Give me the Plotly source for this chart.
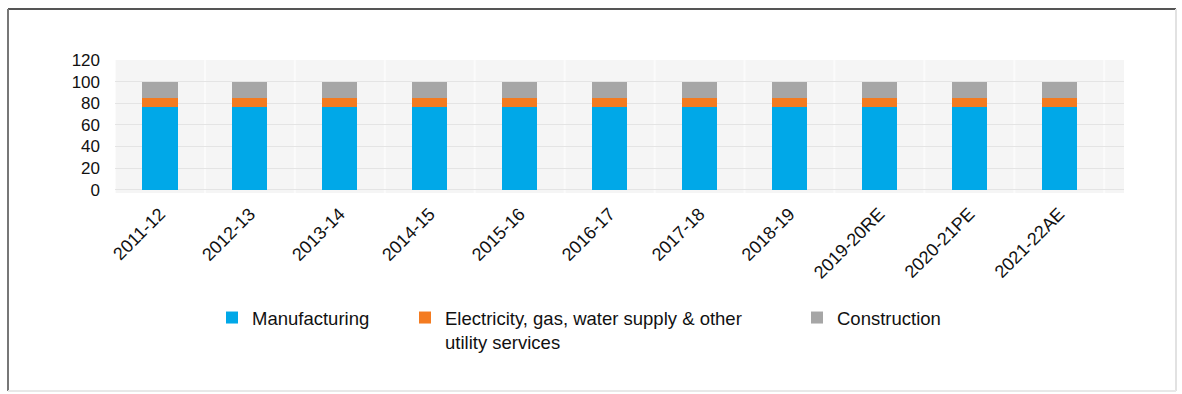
import plotly.graph_objects as go

# Share of industry GVA by sub-sector (%)
years = ["2011-12", "2012-13", "2013-14", "2014-15", "2015-16", "2016-17",
         "2017-18", "2018-19", "2019-20RE", "2020-21PE", "2021-22AE"]
manufacturing = [77, 77, 77, 77, 77, 77, 77, 77, 77, 77, 77]
utilities = [8, 8, 8, 8, 8, 8, 8, 8, 8, 8, 8]
construction = [15, 15, 15, 15, 15, 15, 15, 15, 15, 15, 15]

series_names = ["Manufacturing",
                "Electricity, gas, water supply & other<br>utility services",
                "Construction"]
series_values = [manufacturing, utilities, construction]
colors = ["#00a8e8", "#f47b20", "#a6a6a6"]
legend_ids = ["legend", "legend2", "legend3"]

W, H = 1182, 394
ML, MR, MT, MB = 115, 58, 60, 201
pw = W - ML - MR
ph = H - MT - MB

FONT = "Liberation Sans, Arial, sans-serif"

fig = go.Figure()
for name, vals, col, lg in zip(series_names, series_values, colors, legend_ids):
    fig.add_trace(go.Bar(x=years, y=vals, name=name, marker_color=col,
                         marker_line_width=0, width=0.39, legend=lg,
                         showlegend=True))


def px(x):
    """Pixel column -> paper x."""
    return (x - ML) / pw


def py(y):
    """Pixel row (from top) -> paper y."""
    return (H - MB - y) / ph


legend_style = dict(orientation="h", xanchor="left", yanchor="top",
                    bgcolor="rgba(0,0,0,0)", valign="top",
                    font=dict(family=FONT, size=18.5, color="#111"),
                    itemwidth=30, visible=True)

fig.update_layout(
    width=W, height=H,
    margin=dict(l=ML, r=MR, t=MT, b=MB),
    paper_bgcolor="white",
    plot_bgcolor="#f5f5f5",
    barmode="stack",
    showlegend=True,
    legend=dict(x=px(212), y=py(299), **legend_style),
    legend2=dict(x=px(405), y=py(299), **legend_style),
    legend3=dict(x=px(797), y=py(299), **legend_style),
    xaxis=dict(
        type="category",
        range=[-0.5, 10.72],
        tickangle=-45,
        tickfont=dict(family=FONT, size=18, color="#111"),
        showgrid=False,
        showline=False,
        ticks="",
        zeroline=False,
        ticklabelstandoff=6,
    ),
    yaxis=dict(
        range=[-3, 120],
        tickvals=[0, 20, 40, 60, 80, 100, 120],
        tickfont=dict(family=FONT, size=17, color="#111"),
        gridcolor="#e4e4e4",
        gridwidth=1,
        zeroline=False,
        showline=False,
        ticklabelstandoff=14,
    ),
)

# Light vertical separators between categories
for i in range(len(years) + 1):
    fig.add_shape(type="line", xref="x", yref="paper",
                  x0=i - 0.5, x1=i - 0.5, y0=0, y1=1,
                  line=dict(color="#fbfbfb", width=2), layer="below")

# Outer frame: dark top and left edges, light right and bottom edges
fx0, fx1 = px(8), px(1176)
fy0, fy1 = py(391), py(9)
fig.add_shape(type="line", xref="paper", yref="paper", x0=fx0, x1=fx1, y0=fy1, y1=fy1,
              line=dict(color="#555", width=2))
fig.add_shape(type="line", xref="paper", yref="paper", x0=fx0, x1=fx0, y0=fy0, y1=fy1,
              line=dict(color="#777", width=2))
fig.add_shape(type="line", xref="paper", yref="paper", x0=fx1, x1=fx1, y0=fy0, y1=fy1,
              line=dict(color="#e2e2e2", width=2))
fig.add_shape(type="line", xref="paper", yref="paper", x0=fx0, x1=fx1, y0=fy0, y1=fy0,
              line=dict(color="#e8e8e8", width=2))

fig.write_html("out.html")
